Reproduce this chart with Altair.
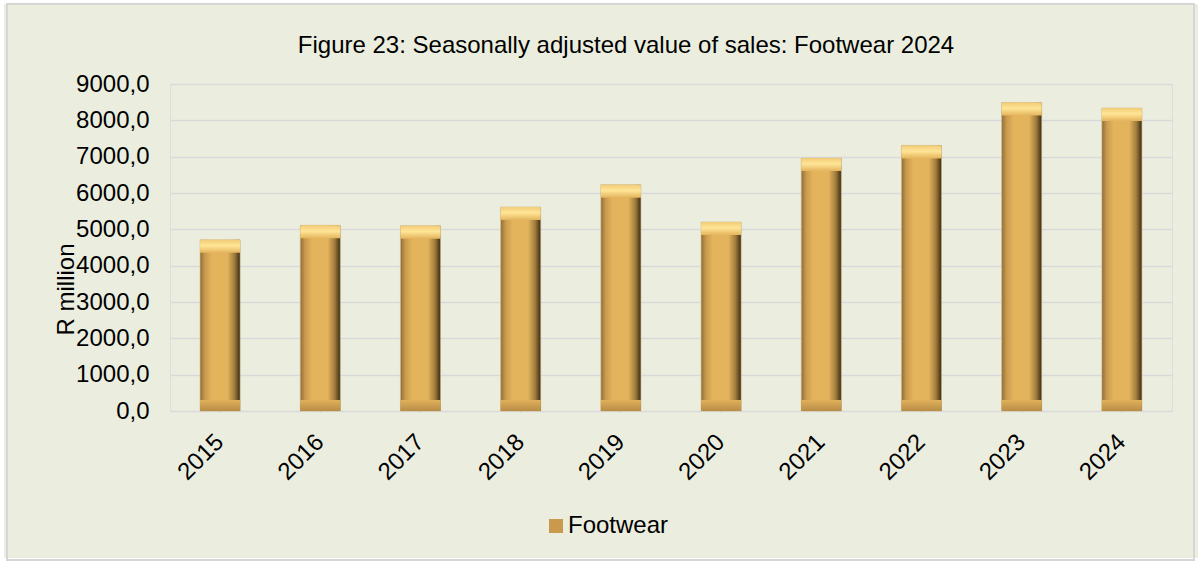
import altair as alt
import pandas as pd

years = ["2015", "2016", "2017", "2018", "2019", "2020", "2021", "2022", "2023", "2024"]
values = [4710, 5110, 5100, 5615, 6230, 5200, 6960, 7310, 8490, 8340]
series = ["Footwear"] * len(years)
title_text = "Figure 23: Seasonally adjusted value of sales: Footwear 2024"
y_title = "R million"

df = pd.DataFrame({"year": years, "value": values, "series": series})

FONT = "Liberation Sans"
FS = 24

bar_grad = alt.LinearGradient(
    gradient="linear", x1=0, x2=1, y1=0, y2=0,
    stops=[
        alt.GradientStop(color="#8E6C36", offset=0),
        alt.GradientStop(color="#C99A4E", offset=0.12),
        alt.GradientStop(color="#E4B45D", offset=0.3),
        alt.GradientStop(color="#E4B45D", offset=0.68),
        alt.GradientStop(color="#A07C3C", offset=0.86),
        alt.GradientStop(color="#3A2A10", offset=1),
    ],
)
cap_grad = alt.LinearGradient(
    gradient="linear", x1=0, x2=0, y1=0, y2=1,
    stops=[
        alt.GradientStop(color="#F2CC78", offset=0),
        alt.GradientStop(color="#FFE596", offset=0.45),
        alt.GradientStop(color="#E4B45D", offset=1),
    ],
)
base_grad = alt.LinearGradient(
    gradient="linear", x1=0, x2=0, y1=0, y2=1,
    stops=[
        alt.GradientStop(color="#E0B05A", offset=0),
        alt.GradientStop(color="#B98D47", offset=1),
    ],
)

x_axis = alt.Axis(labelAngle=315, labelAlign="right", labelBaseline="middle",
                  labelPadding=27, ticks=False, domain=False, labelFontSize=FS,
                  labelFont=FONT, labelColor="#000000", labelOverlap=False)
y_axis = alt.Axis(values=list(range(0, 9001, 1000)), tickCount=10,
                  labelExpr="replace(format(datum.value, '.1f'), '.', ',')",
                  labelFontSize=FS, labelFont=FONT, labelColor="#000000",
                  labelPadding=21, ticks=False, domain=False, labelOverlap=False,
                  grid=True, gridColor="#D9D9D9", gridWidth=1.5,
                  titleFontSize=FS, titleFont=FONT, titleFontWeight="normal",
                  titleColor="#000000", titleAngle=270, titleX=-104, titleY=205,
                  titleAlign="center", titleBaseline="middle")
x_scale = alt.Scale(paddingInner=0.6, paddingOuter=0.3)
y_scale = alt.Scale(domain=[0, 9000], nice=False)

def X():
    return alt.X("year:N", sort=years, title=None, scale=x_scale, axis=x_axis)

one = pd.DataFrame({"a": [0]})
outer_white = alt.Chart(one).mark_rect(
    fill="transparent", stroke="#FFFFFF", strokeWidth=8
).encode(x=alt.value(-170), x2=alt.value(1032), y=alt.value(-84), y2=alt.value(478))

panel_border = alt.Chart(one).mark_rect(
    fill="transparent", stroke="#D6D6D6", strokeWidth=2
).encode(x=alt.value(-163), x2=alt.value(1024), y=alt.value(-80), y2=alt.value(476))

title_mark = alt.Chart(pd.DataFrame({"t": [title_text]})).mark_text(
    font=FONT, fontSize=24, color="#000000", align="center", baseline="alphabetic"
).encode(text="t:N", x=alt.value(456), y=alt.value(-31))

bars = alt.Chart(df).mark_bar(color=bar_grad, stroke="#CDBB8F", strokeWidth=0.6).encode(
    x=X(), y=alt.Y("value:Q", title=y_title, scale=y_scale, axis=y_axis)
)

caps = alt.Chart(df).mark_bar(color=cap_grad, y2Offset=13).encode(
    x=X(), y=alt.Y("value:Q", title=y_title, scale=y_scale, axis=y_axis), y2="value:Q"
)

bases = alt.Chart(df).mark_bar(color=base_grad, yOffset=-11).encode(
    x=X(), y=alt.Y(datum=0, title=y_title, scale=y_scale, axis=y_axis), y2=alt.datum(0)
)

legend_layer = alt.Chart(df).mark_square(size=1, opacity=1).encode(
    x=X(),
    y=alt.Y(datum=0, title=y_title, scale=y_scale, axis=y_axis),
    color=alt.Color("series:N", title=None,
                    scale=alt.Scale(range=["#C99A4E"]),
                    legend=alt.Legend(orient="none", legendX=374, legendY=430,
                                      symbolType="square", symbolSize=196,
                                      symbolOpacity=1, symbolStrokeWidth=0,
                                      labelFontSize=FS, labelFont=FONT,
                                      labelColor="#000000", labelOffset=0,
                                      padding=0)),
)

chart = alt.layer(bars, legend_layer, caps, bases, outer_white, panel_border, title_mark).properties(
    width=1002, height=327,
    padding={"left": 170, "top": 84, "right": 30, "bottom": 151},
    autosize=alt.AutoSizeParams(type="none"),
).configure_view(stroke=None, fill="#FFFFFF").configure(background="#EBEEDF")

chart.save("out.html", embed_options={"renderer": "svg", "actions": False})
